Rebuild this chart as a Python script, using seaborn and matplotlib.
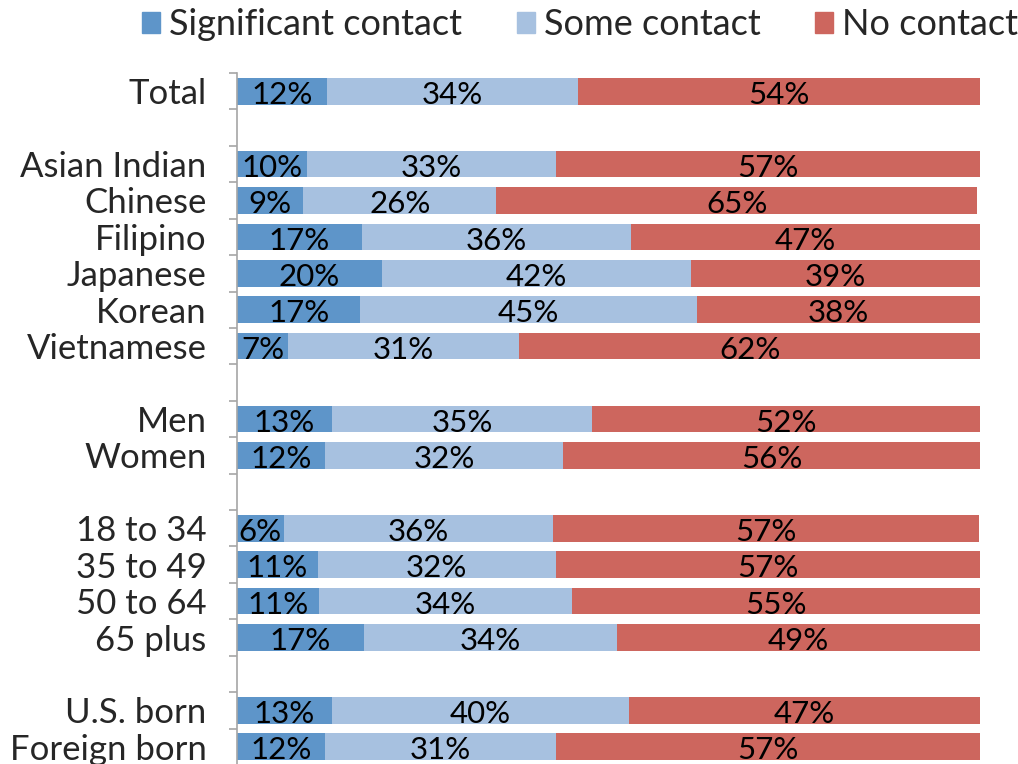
import numpy as np
import pandas as pd
import matplotlib.pyplot as plt
import seaborn as sns

sns.set_theme(style="white")
plt.rcParams["font.family"] = ["Lato", "DejaVu Sans"]

groups = ["Total", " ", "Asian Indian", "Chinese", "Filipino", "Japanese", "Korean",
          "Vietnamese", "  ", "Men", "Women", "   ", "18 to 34", "35 to 49",
          "50 to 64", "65 plus", "    ", "U.S. born", "Foreign born"]

# bar lengths (%), 0 for the spacer rows
significant = [12.1, 0, 9.4, 8.9, 16.8, 19.5, 16.6, 6.9, 0, 12.8, 11.8, 0, 6.3, 10.9, 11.0, 17.1, 0, 12.8, 11.8]
some = [33.8, 0, 33.5, 26.0, 36.2, 41.6, 45.3, 31.1, 0, 35.0, 32.1, 0, 36.2, 32.0, 34.1, 34.0, 0, 40.0, 31.1]
no_contact = [54.1, 0, 57.1, 64.7, 47.0, 38.9, 38.1, 62.0, 0, 52.2, 56.1, 0, 57.4, 57.1, 54.9, 48.9, 0, 47.2, 57.1]

# printed labels
sig_labels = [12, None, 10, 9, 17, 20, 17, 7, None, 13, 12, None, 6, 11, 11, 17, None, 13, 12]
some_labels = [34, None, 33, 26, 36, 42, 45, 31, None, 35, 32, None, 36, 32, 34, 34, None, 40, 31]
no_labels = [54, None, 57, 65, 47, 39, 38, 62, None, 52, 56, None, 57, 57, 55, 49, None, 47, 57]

series = ["Significant contact", "Some contact", "No contact"]
colors = ["#5E95C9", "#A7C1E0", "#CD665E"]

df = pd.DataFrame({"group": groups, "sig": significant, "some": some, "no": no_contact})
df["c1"] = df["sig"]
df["c2"] = df["sig"] + df["some"]
df["c3"] = df["c2"] + df["no"]

fig = plt.figure(figsize=(10.18, 7.64), dpi=100)
ax = fig.add_axes([237 / 1018, -1 / 764, 743 / 1018, 692 / 764])

for col, color in zip(["c3", "c2", "c1"], colors[::-1]):
    sns.barplot(data=df, x=col, y="group", order=groups, color=color,
                width=0.73, linewidth=0, saturation=1, ax=ax)

for i in range(len(groups)):
    if sig_labels[i] is None:
        continue
    starts = [0, df["c1"][i], df["c2"][i]]
    widths = [df["sig"][i], df["some"][i], df["no"][i]]
    labs = [sig_labels[i], some_labels[i], no_labels[i]]
    for s, w, lab in zip(starts, widths, labs):
        ax.text(s + w / 2, i + 0.1, f"{lab}%", ha="center", va="center",
                fontsize=22.5, color="black")

ax.set_xlim(0, 100)
ax.set_ylim(len(groups) - 0.5, -0.5)
ax.set_xlabel("")
ax.set_ylabel("")
ax.set_xticks([])
ax.set_yticks(range(len(groups)))
ax.set_yticklabels(groups, fontsize=25)
ax.set_yticks(np.arange(-0.5, len(groups), 1), minor=True)
ax.tick_params(axis="y", which="major", length=0, pad=22)
ax.tick_params(axis="y", which="minor", length=6, width=1.2, color="#A6A6A6", left=True)
for side in ["top", "right", "bottom"]:
    ax.spines[side].set_visible(False)
ax.spines["left"].set_color("#A6A6A6")
ax.spines["left"].set_linewidth(1.2)

handles = [plt.Rectangle((0, 0), 1, 1, color=c) for c in colors]
fig.legend(handles, series, loc="upper center", bbox_to_anchor=(580 / 1018, 1.032),
           ncol=3, frameon=False, fontsize=26, handlelength=0.5, handleheight=0.5,
           handletextpad=0.25, columnspacing=1.5)

fig.savefig("out.png", dpi=100)
